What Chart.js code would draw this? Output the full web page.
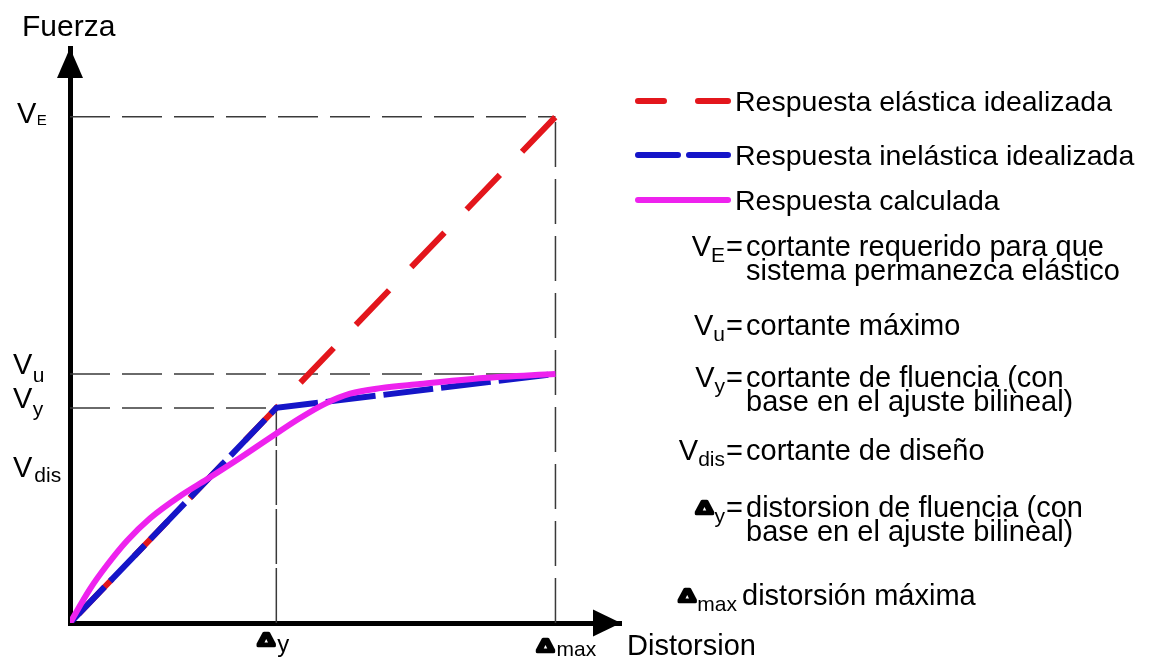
<!DOCTYPE html>
<html>
<head>
<meta charset="utf-8">
<title>Fuerza - Distorsion</title>
<script src="https://cdn.jsdelivr.net/npm/chart.js@4.4.0/dist/chart.umd.min.js"></script>
<style>
  html, body { margin: 0; padding: 0; background: #fff; }
</style>
</head>
<body>
<canvas id="curva" width="1172" height="664"></canvas>
<script>
// unidades relativas: Δmax = 10, VE = 10
const xMax = 11.35;
const yMax = 11.36;

// respuesta elástica idealizada
const elasticX = [0, 10];
const elasticY = [0, 10];
// respuesta inelástica idealizada (bilineal)
const inelasticX = [0, 4.25, 10];
const inelasticY = [0, 4.25, 4.92];
// respuesta calculada
const calcX = [0, 0.41, 0.76, 1.17, 1.65, 2.27, 2.82, 3.50, 4.12, 4.74, 5.25, 5.77, 6.39, 7.21, 8.51, 10];
const calcY = [0, 0.67, 1.14, 1.62, 2.07, 2.51, 2.84, 3.26, 3.66, 4.05, 4.33, 4.53, 4.64, 4.72, 4.84, 4.92];

// marcas de los ejes: VE, Vu, Vy, Vdis / Δy, Δmax
const yTickValues = [10, 4.92, 4.25, 3.10];
const yTickSubs = ['E', 'u', 'y', 'dis'];
const xTickValues = [4.25, 10];
const xTickSubs = ['y', 'max'];

const legendLabels = ['Respuesta elástica idealizada', 'Respuesta inelástica idealizada', 'Respuesta calculada'];
const legendColors = ['#e3161c', '#1515c8', '#ee22ee'];

const notes = [
  { sym: 'V', sub: 'E', lines: ['cortante requerido para que', 'sistema permanezca elástico'] },
  { sym: 'V', sub: 'u', lines: ['cortante máximo'] },
  { sym: 'V', sub: 'y', lines: ['cortante de fluencia (con', 'base en el ajuste bilineal)'] },
  { sym: 'V', sub: 'dis', lines: ['cortante de diseño'] },
  { sym: 'Δ', sub: 'y', lines: ['distorsion de fluencia (con', 'base en el ajuste bilineal)'] },
  { sym: 'Δ', sub: 'max', lines: ['distorsión máxima'], noEq: true }
];

const FONT = '"Liberation Sans", Arial, sans-serif';

function pts(xs, ys) {
  return xs.map((x, i) => ({ x: x, y: ys[i] }));
}

const VE = yTickValues[0], Vu = yTickValues[1], Vy = yTickValues[2];
const dY = xTickValues[0], dMax = xTickValues[1];

function guide(data, dash) {
  return {
    data: data, borderColor: '#3a3a3a', borderWidth: 1.5, borderDash: dash,
    pointRadius: 0, fill: false, order: 10
  };
}

// Δ en negrita, achatado y con trazo grueso para que quede casi macizo
function drawDelta(ctx, xRight, y) {
  ctx.save();
  ctx.translate(xRight, y);
  ctx.scale(1, 0.72);
  ctx.textAlign = 'right';
  ctx.font = 'bold 25px ' + FONT;
  ctx.lineWidth = 3.5;
  ctx.lineJoin = 'round';
  ctx.strokeStyle = '#000';
  ctx.fillStyle = '#000';
  ctx.strokeText('Δ', -2, 0);
  ctx.fillText('Δ', -2, 0);
  ctx.restore();
}

const decor = {
  id: 'decor',
  afterDraw(chart) {
    const ctx = chart.ctx;
    const xs = chart.scales.x, ys = chart.scales.y;
    const x0 = xs.getPixelForValue(0), y0 = ys.getPixelForValue(0);
    const xEnd = xs.getPixelForValue(xMax), yEnd = ys.getPixelForValue(yMax);
    ctx.save();
    ctx.fillStyle = '#000';

    // flechas de los ejes
    ctx.beginPath();
    ctx.moveTo(x0, yEnd);
    ctx.lineTo(x0 - 13, yEnd + 30);
    ctx.lineTo(x0 + 13, yEnd + 30);
    ctx.closePath();
    ctx.fill();
    ctx.beginPath();
    ctx.moveTo(xEnd, y0);
    ctx.lineTo(xEnd - 28, y0 - 13.5);
    ctx.lineTo(xEnd - 28, y0 + 13.5);
    ctx.closePath();
    ctx.fill();

    // títulos de ejes
    ctx.textBaseline = 'alphabetic';
    ctx.textAlign = 'left';
    ctx.font = '30px ' + FONT;
    ctx.fillText('Fuerza', 22, 36);
    ctx.font = '29px ' + FONT;
    ctx.fillText('Distorsion', xEnd + 6, 655);

    // etiquetas eje Y
    yTickValues.forEach((v, i) => {
      const py = ys.getPixelForValue(v);
      const sub = yTickSubs[i];
      const vx = i === 0 ? 17 : 13;
      ctx.font = '29px ' + FONT;
      ctx.fillText('V', vx, py + (i === 0 ? 6 : 0) + (i === 3 ? 11 : 0));
      const vw = ctx.measureText('V').width;
      if (sub === 'E') {
        ctx.font = '15px ' + FONT;
        ctx.fillText(sub, vx + vw + 0.5, py + 8);
      } else {
        ctx.font = '21px ' + FONT;
        ctx.fillText(sub, vx + vw + (sub === 'dis' ? 2 : 0.5), py + (sub === 'dis' ? 16 : 8));
      }
    });

    // etiquetas eje X
    xTickValues.forEach((v, i) => {
      const px = xs.getPixelForValue(v);
      drawDelta(ctx, px + 1, i === 0 ? 646 : 652);
      ctx.textAlign = 'left';
      ctx.fillStyle = '#000';
      ctx.font = (i === 0 ? 24 : 21) + 'px ' + FONT;
      ctx.fillText(xTickSubs[i], px + 1, i === 0 ? 652 : 656);
    });

    // leyenda
    const rows = [101, 155, 200];
    ctx.lineWidth = 6;
    ctx.lineCap = 'round';
    rows.forEach((cy, i) => {
      ctx.strokeStyle = legendColors[i];
      ctx.beginPath();
      if (i === 0) {
        ctx.moveTo(638, cy); ctx.lineTo(664, cy);
        ctx.moveTo(698, cy); ctx.lineTo(728, cy);
      } else if (i === 1) {
        ctx.moveTo(638, cy); ctx.lineTo(678, cy);
        ctx.moveTo(689, cy); ctx.lineTo(728, cy);
      } else {
        ctx.moveTo(638, cy); ctx.lineTo(728, cy);
      }
      ctx.stroke();
      ctx.fillStyle = '#000';
      ctx.font = '28.5px ' + FONT;
      ctx.textAlign = 'left';
      ctx.fillText(legendLabels[i], 735, cy + 10);
    });

    // notación
    const bases = [256, 335, 387, 460, 517, 605];
    notes.forEach((n, i) => {
      const by = bases[i];
      const textX = n.noEq ? 742 : 746;
      ctx.fillStyle = '#000';
      ctx.textAlign = 'left';
      ctx.font = '21px ' + FONT;
      const subW = ctx.measureText(n.sub).width;
      const subEnd = n.noEq ? 737 : 725;
      ctx.fillText(n.sub, subEnd - subW, by + 6);
      if (n.sym === 'V') {
        ctx.textAlign = 'right';
        ctx.font = '29px ' + FONT;
        ctx.fillText('V', subEnd - subW, by);
      } else {
        drawDelta(ctx, subEnd - subW + 1, by - 3);
      }
      ctx.textAlign = 'left';
      ctx.fillStyle = '#000';
      ctx.font = '29px ' + FONT;
      if (!n.noEq) ctx.fillText('=', 726, by);
      n.lines.forEach((t, k) => ctx.fillText(t, textX, by + k * 24));
    });
    ctx.restore();
  }
};

new Chart(document.getElementById('curva'), {
  type: 'line',
  data: {
    datasets: [
      {
        label: legendLabels[2], data: pts(calcX, calcY), borderColor: legendColors[2],
        borderWidth: 6, cubicInterpolationMode: 'monotone', pointRadius: 0, order: 1
      },
      {
        label: legendLabels[1], data: pts(inelasticX, inelasticY), borderColor: legendColors[1],
        borderWidth: 6, borderDash: [50, 8], tension: 0, pointRadius: 0, order: 2
      },
      {
        label: legendLabels[0], data: pts(elasticX, elasticY), borderColor: legendColors[0],
        borderWidth: 6, borderDash: [48, 32], borderDashOffset: 67, pointRadius: 0, order: 3
      },
      guide([{ x: 0, y: VE }, { x: dMax, y: VE }], [40, 12]),
      guide([{ x: 0, y: Vu }, { x: dMax, y: Vu }], [40, 12]),
      guide([{ x: 0, y: Vy }, { x: dY, y: Vy }], [40, 12]),
      guide([{ x: dY, y: 0 }, { x: dY, y: Vy }], [55, 4]),
      guide([{ x: dMax, y: 0 }, { x: dMax, y: VE }], [45, 12])
    ]
  },
  options: {
    responsive: false,
    animation: false,
    layout: { padding: { left: 70, right: 551, top: 48, bottom: 41 } },
    plugins: { legend: { display: false }, tooltip: { enabled: false } },
    scales: {
      x: {
        type: 'linear', min: 0, max: xMax,
        grid: { display: false, drawTicks: false },
        ticks: { display: false },
        border: { display: true, color: '#000', width: 5 }
      },
      y: {
        type: 'linear', min: 0, max: yMax,
        grid: { display: false, drawTicks: false },
        ticks: { display: false },
        border: { display: true, color: '#000', width: 5 }
      }
    }
  },
  plugins: [decor]
});
</script>
</body>
</html>
